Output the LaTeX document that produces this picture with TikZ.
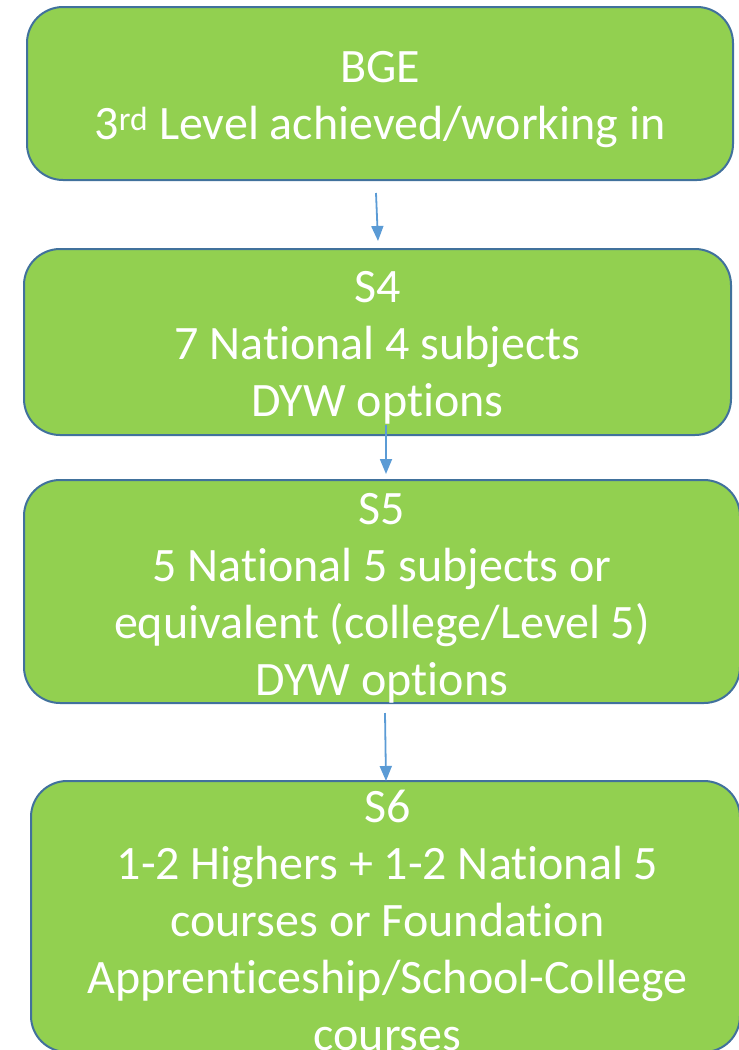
\documentclass[tikz,border=0pt]{standalone}
\usepackage{fontspec}
\setmainfont{Carlito}[Ligatures=NoCommon]
\usetikzlibrary{arrows.meta}
\definecolor{boxfill}{HTML}{92D050}
\definecolor{boxline}{HTML}{41719C}
\definecolor{arrline}{HTML}{5B9BD5}
\tikzset{
  stagebox/.style={draw=boxline, line width=2pt, fill=boxfill, rounded corners=36pt, inner sep=0pt},
  stagetext/.style={text=white, align=center, inner sep=0pt,
    font=\fontsize{48}{57}\selectfont},
  flowarrow/.style={draw=arrline, line width=1.8pt, -{Triangle[length=15pt,width=12pt]}}
}
\begin{document}
\begin{tikzpicture}[x=1pt,y=-1pt]
\useasboundingbox (0,0) rectangle (739,1050);
\clip (0,0) rectangle (739,1050);
\node[stagebox, minimum width=706pt, minimum height=173pt] (b1) at (380,93.5) {};
\node[stagebox, minimum width=707pt, minimum height=186pt] (b2) at (377.5,342) {};
\node[stagebox, minimum width=716pt, minimum height=223pt] (b3) at (382,591.5) {};
\node[stagebox, minimum width=709pt, minimum height=271pt] (b4) at (385.5,916.5) {};
\node[stagetext] (t1) at ([yshift=-6pt]b1.center)
  {BGE\\3\textsuperscript{rd} Level achieved/working in};
\node[stagetext] (t2) at ([yshift=-6pt]b2.center)
  {S4\\7 National 4 subjects\\DYW options};
\node[stagetext] (t3) at ([yshift=-7pt]b3.center)
  {S5\\5 National 5 subjects or\\equivalent (college/Level 5)\\DYW options};
\node[stagetext] (t4) at ([xshift=2pt,yshift=-3.5pt]b4.center)
  {S6\\1-2 Highers + 1-2 National 5\\courses or Foundation\\Apprenticeship/School-College\\courses};
\coordinate (a1s) at (376,193);
\coordinate (a1e) at (378,241);
\coordinate (a2s) at (386,425);
\coordinate (a2e) at (386,474);
\coordinate (a3s) at (385,713);
\coordinate (a3e) at (386,781);
\draw[flowarrow] (a1s) -- (a1e);
\draw[flowarrow] (a2s) -- (a2e);
\draw[flowarrow] (a3s) -- (a3e);
\end{tikzpicture}
\end{document}
